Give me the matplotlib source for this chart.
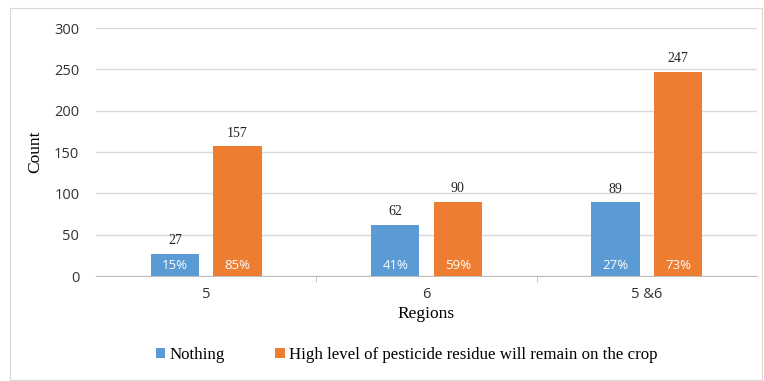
import numpy as np
import matplotlib.pyplot as plt
from matplotlib.patches import Rectangle

# data
regions = ['5', '6', '5 &6']
nothing = [27, 62, 89]
residue = [157, 90, 247]
nothing_pct = ['15%', '41%', '27%']
residue_pct = ['85%', '59%', '73%']
series_names = ['Nothing', 'High level of pesticide residue will remain on the crop']

blue = '#5B9BD5'
orange = '#ED7D31'

fig = plt.figure(figsize=(7.64, 3.81), dpi=100)
ax = fig.add_axes([96 / 764, 105 / 381, 661 / 764, 248 / 381])

# outer chart frame
fig.patches.append(Rectangle((10 / 764, 0.002), 752 / 764, 372 / 381,
                             transform=fig.transFigure, fill=False,
                             edgecolor='#D9D9D9', linewidth=0.8))

x = np.arange(len(regions))
w = 0.22
off = 0.142
b1 = ax.bar(x - off, nothing, w, color=blue, label=series_names[0], zorder=3)
b2 = ax.bar(x + off, residue, w, color=orange, label=series_names[1], zorder=3)

for bars, vals, pcts in [(b1, nothing, nothing_pct), (b2, residue, residue_pct)]:
    for bar, v, p in zip(bars, vals, pcts):
        cx = bar.get_x() + bar.get_width() / 2
        ax.text(cx, v + 8, str(v), ha='center', va='bottom',
                fontsize=10, family='Liberation Serif', color='#222222')
        ax.text(cx, 13, p, ha='center', va='center',
                fontsize=9.5, family='Open Sans', color='white', zorder=4)

ax.set_xlim(-0.5, 2.5)
ax.set_ylim(0, 300)
ax.set_yticks(range(0, 301, 50))
ax.set_xticks(x)
ax.set_xticklabels(regions, fontsize=10.5, family='Open Sans', color='#333333')
ax.set_xticks([0.5, 1.5], minor=True)
ax.tick_params(axis='x', which='major', length=0, pad=8)
ax.tick_params(axis='x', which='minor', length=4, color='#BFBFBF')
ax.tick_params(axis='y', length=0, pad=12, labelsize=10.5, labelcolor='#333333')
for lab in ax.get_yticklabels():
    lab.set_family('Open Sans')

ax.grid(axis='y', color='#D9D9D9', linewidth=1, zorder=0)
for s in ['top', 'right', 'left']:
    ax.spines[s].set_visible(False)
ax.spines['bottom'].set_color('#BFBFBF')

ax.set_ylabel('Count', fontsize=12.5, family='Liberation Serif', labelpad=8)
ax.set_xlabel('Regions', fontsize=12.5, family='Liberation Serif', labelpad=3)

fig.legend(handles=[b1, b2], loc='center', bbox_to_anchor=(0.532, 26 / 381),
           ncol=2, frameon=False, prop={'family': 'Liberation Serif', 'size': 12.2},
           handlelength=0.55, handleheight=0.55, handletextpad=0.25, columnspacing=3.0)

plt.savefig('out.png', dpi=100)
